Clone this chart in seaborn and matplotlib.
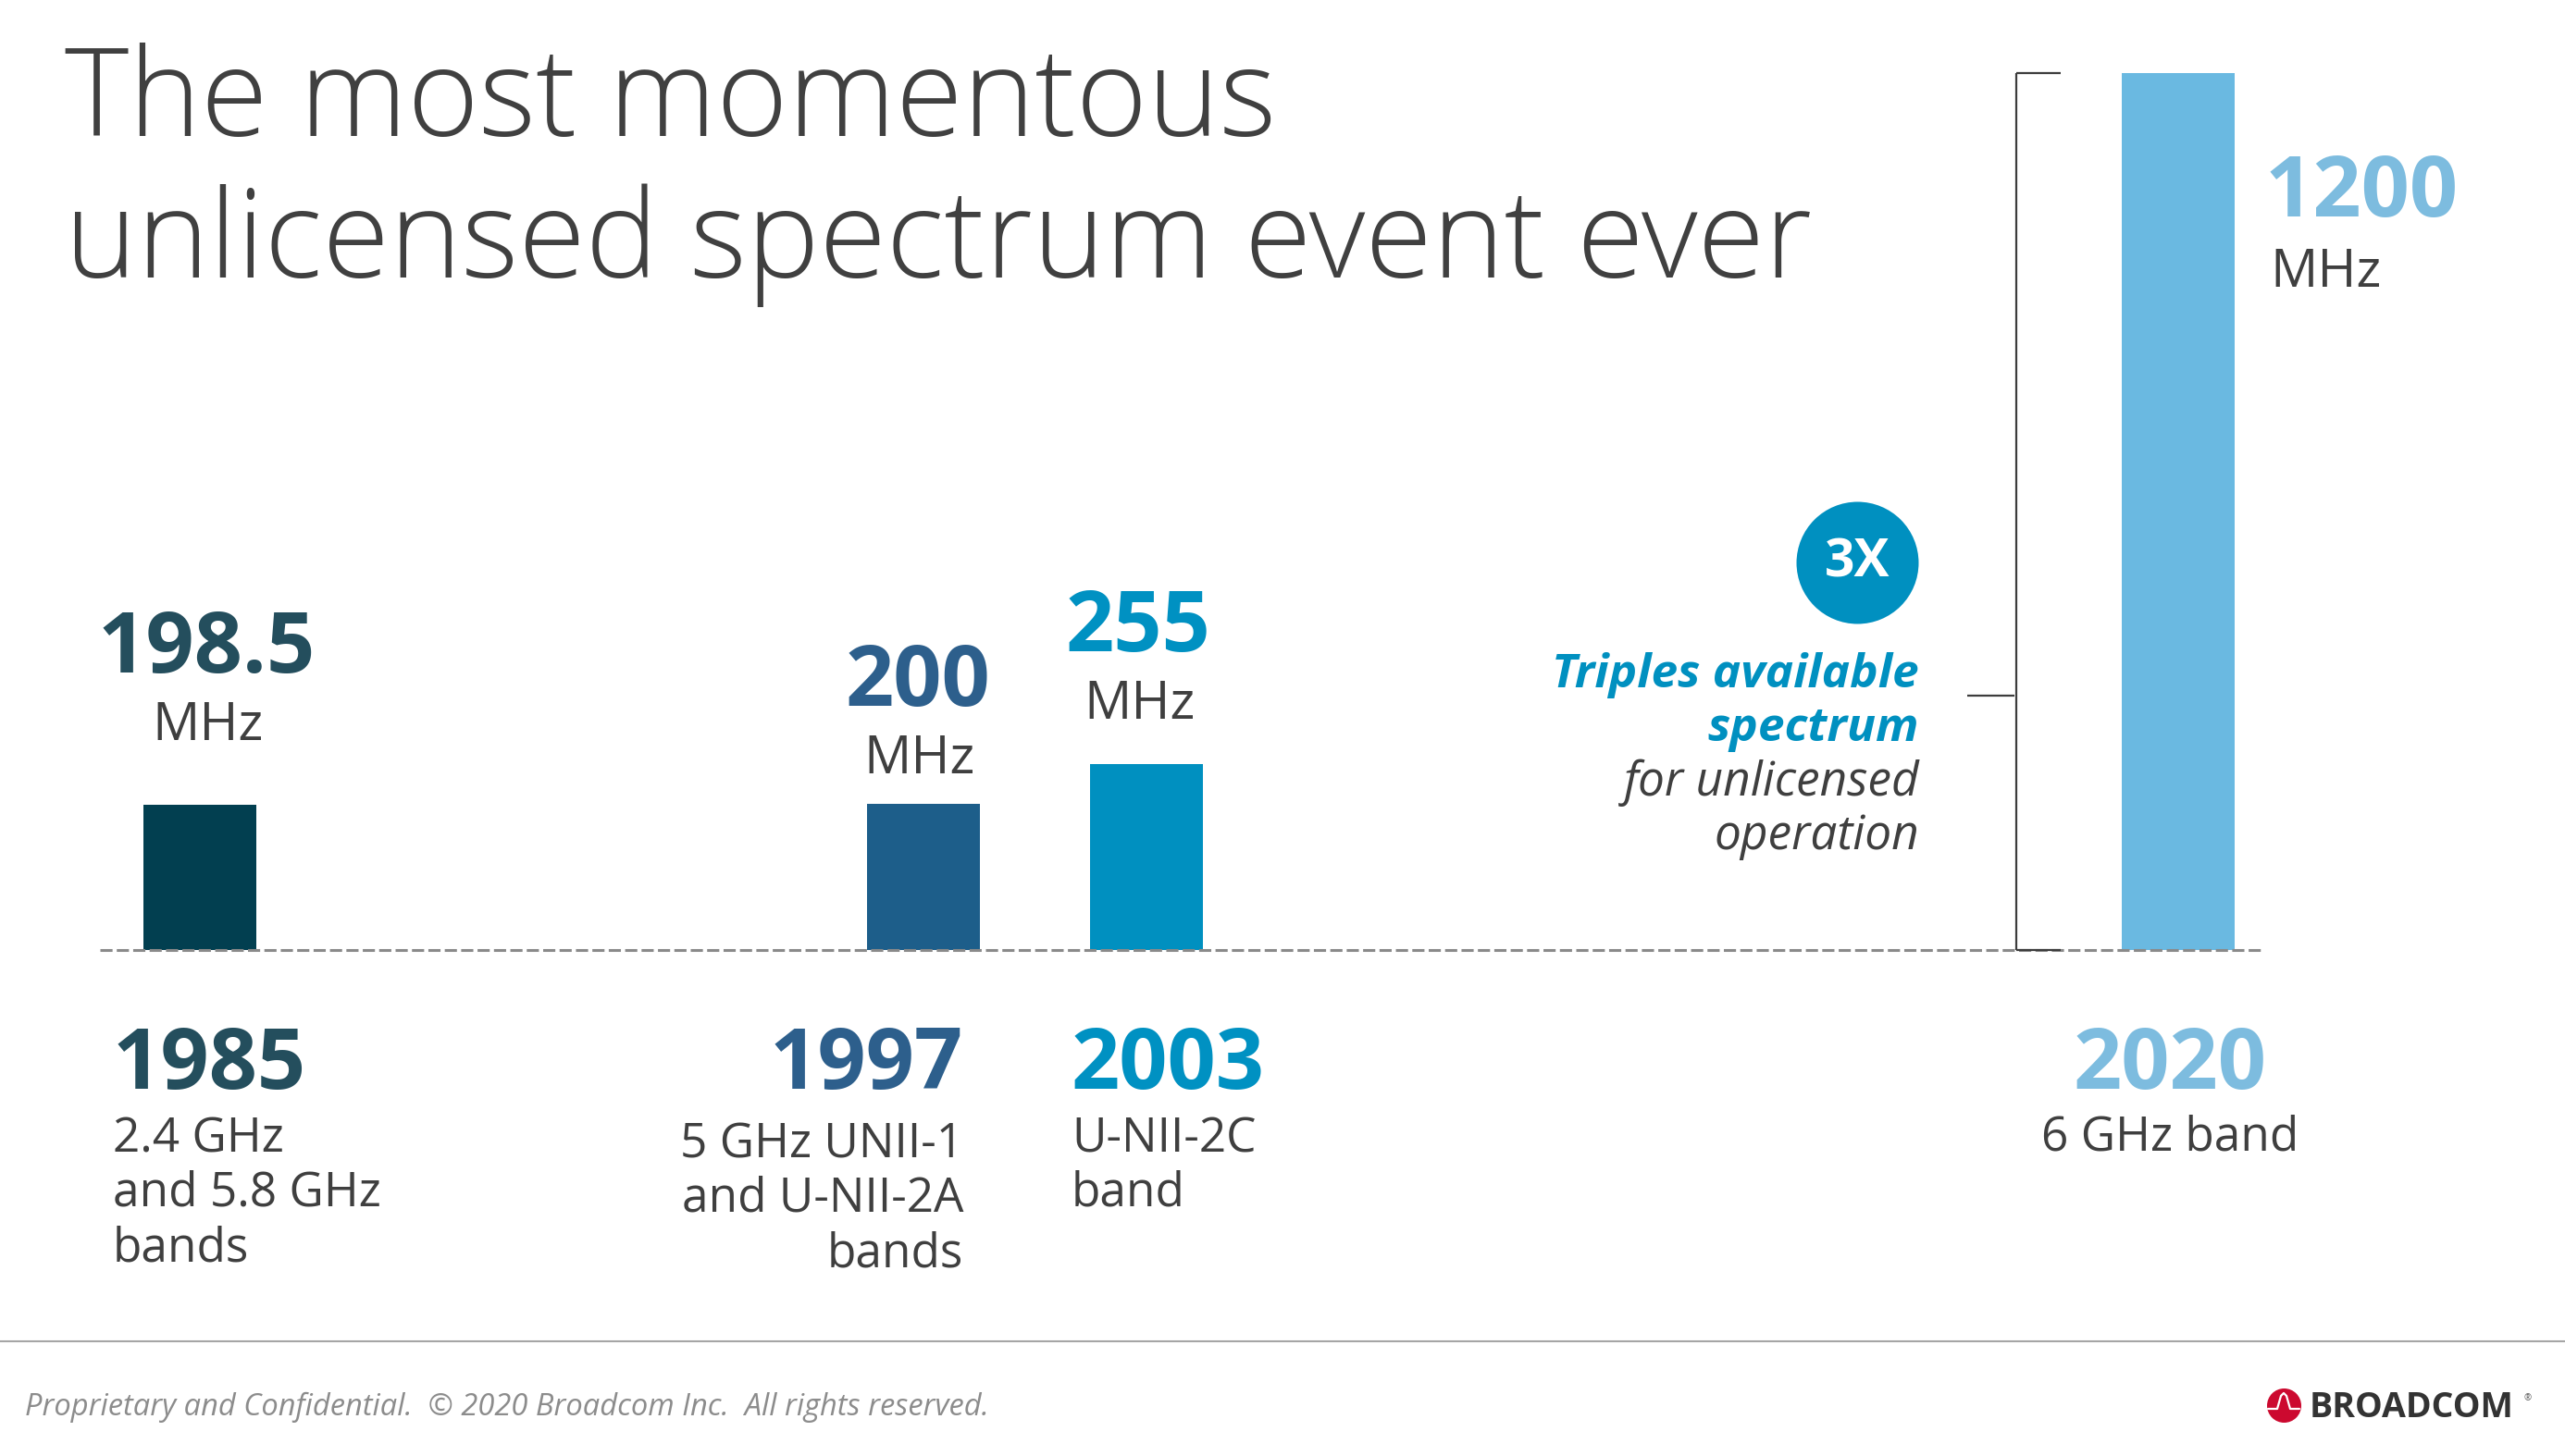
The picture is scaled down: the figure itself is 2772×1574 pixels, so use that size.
import matplotlib
matplotlib.use('Agg')
import pandas as pd
import matplotlib.pyplot as plt
import seaborn as sns

# --- data ---
years = ['1985', '1997', '2003', '2020']
bandwidth_mhz = [198.5, 200, 255, 1200]
value_text = ['198.5', '200', '255', '1200']
band_notes = [
    ['2.4 GHz', 'and 5.8 GHz', 'bands'],
    ['5 GHz UNII-1', 'and U-NII-2A', 'bands'],
    ['U-NII-2C', 'band'],
    ['6 GHz band'],
]
bar_colors = ['#023F50', '#1D5E8A', '#0090C0', '#6AB9E1']
text_colors = ['#244E5D', '#2D5F8C', '#0091C2', '#7DBCDF']

# --- layout (pixels of a 2772x1574 slide) ---
W, H = 2772, 1574
BASE_PX = 1027          # where 0 MHz sits
PX_PER_MHZ = 0.79
FIRST_PX, SLOT_PX = 216, 241
x_slot = [0.0, 3.245, 4.245, 8.871]

# offsets of the value labels from the bar top: (dx, dy number, dy unit, ha)
value_pos = [(7, 143, 70, 'center'), (-6, 106, 33, 'center'),
             (-9, 122, 49, 'center'), (94, -155, -231, 'left')]
# year / note column: (dx, ha, first note dy)
year_pos = [(-94, 'left', -218), (43, 'right', -224),
            (-81, 'left', -218), (-9, 'center', -216)]
NOTE_STEP = 59

DARK = '#3F3F3F'
CALLOUT = '#0090C0'

sns.set_theme(style='white')
plt.rcParams['font.family'] = ['Open Sans', 'DejaVu Sans']


def fig_xy(px, py):
    return px / W, 1 - py / H


fig = plt.figure(figsize=(W / 100, H / 100), dpi=100)
ax = fig.add_axes([0, 0, 1, 1])

df = pd.DataFrame({'slot': x_slot, 'mhz': bandwidth_mhz, 'year': years})
sns.barplot(data=df, x='slot', y='mhz', hue='year', orient='x',
            palette=dict(zip(years, bar_colors)), native_scale=True,
            width=0.506, errorbar=None, legend=False, linewidth=0,
            saturation=1, ax=ax)
ax.set_xlim(-FIRST_PX / SLOT_PX, (W - FIRST_PX) / SLOT_PX)
ax.set_ylim(-(H - BASE_PX) / PX_PER_MHZ, BASE_PX / PX_PER_MHZ)
ax.set_axis_off()

# dashed baseline
ax.axhline(0, xmin=108 / W, xmax=2445 / W, color='#8A8A8A', lw=2.2,
           ls=(0, (4.3, 1.5)), zorder=3)

# value labels above bars
for x, v, txt, col, (dx, dyn, dyu, ha) in zip(x_slot, bandwidth_mhz, value_text,
                                                text_colors, value_pos):
    ax.annotate(txt, (x, v), xytext=(dx, dyn), textcoords='offset pixels',
                ha=ha, va='baseline', fontsize=66, fontweight='bold', color=col)
    ax.annotate('MHz', (x, v), xytext=(dx + (5 if ha == 'left' else 1), dyu),
                textcoords='offset pixels', ha=ha, va='baseline',
                fontsize=41, color=DARK)

# years and band notes under the baseline
for x, yr, notes, col, (dx, ha, dy0) in zip(x_slot, years, band_notes,
                                             text_colors, year_pos):
    ax.annotate(yr, (x, 0), xytext=(dx, -150), textcoords='offset pixels',
                ha=ha, va='baseline', fontsize=66, fontweight='bold', color=col)
    for i, line in enumerate(notes):
        ax.annotate(line, (x, 0), xytext=(dx, dy0 - i * NOTE_STEP),
                    textcoords='offset pixels', ha=ha, va='baseline',
                    fontsize=37, color=DARK)

# bracket spanning the 6 GHz allocation
top = bandwidth_mhz[-1]
xb = x_slot[-1] - 0.726
ax.vlines(xb, 0, top, color='#3C3C3C', lw=1.6, zorder=3)
ax.hlines([0, top], xb, xb + 0.2, color='#3C3C3C', lw=1.6, zorder=3)
ax.hlines(top * 0.29, xb - 0.22, xb - 0.01, color='#3C3C3C', lw=1.6, zorder=3)

# 3X callout
cx, cy = fig_xy(2007, 608)
ax.scatter([cx], [cy], s=(132 * 0.72) ** 2, color=CALLOUT, linewidths=0,
           transform=ax.transAxes, zorder=4, clip_on=False)
ax.text(cx, cy, '3X', transform=ax.transAxes, ha='center', va='center',
        fontsize=41, fontweight='bold', color='white', zorder=5)
for (txt, py, style) in [('Triples available', 743, 'blue'),
                         ('spectrum', 801, 'blue'),
                         ('for unlicensed', 860, 'gray'),
                         ('operation', 918, 'gray')]:
    tx, ty = fig_xy(2074, py)
    ax.text(tx, ty, txt, transform=ax.transAxes, ha='right', va='baseline',
            fontsize=37, fontstyle='italic',
            fontweight='bold' if style == 'blue' else 'normal',
            color=CALLOUT if style == 'blue' else DARK)

# title
for txt, py in [('The most momentous', 147), ('unlicensed spectrum event ever', 300)]:
    tx, ty = fig_xy(70, py)
    ax.text(tx, ty, txt, transform=ax.transAxes, ha='left', va='baseline',
            fontsize=95, fontweight='light', color='#404040')

# footer
ly = fig_xy(0, 1450)[1]
ax.plot([0, 1], [ly, ly], transform=ax.transAxes, color='#A6A6A6', lw=1.5,
        clip_on=False)
tx, ty = fig_xy(27, 1530)
ax.text(tx, ty, 'Proprietary and Confidential.  \u00a9 2020 Broadcom Inc.  All rights reserved.',
        transform=ax.transAxes, ha='left', va='baseline', fontsize=23.5,
        fontstyle='italic', color='#8C8C8C')

# Broadcom logo
lx, lyy = fig_xy(2468, 1519)
ax.scatter([lx], [lyy], s=(37 * 0.72) ** 2, color='#CC092F', linewidths=0,
           transform=ax.transAxes, zorder=4, clip_on=False)
pulse = [(-17, 4), (-7, 4), (-3, -10), (0, -13), (3, -10), (7, 4), (17, 4)]
ax.plot([fig_xy(2468 + dx, 1519 + dy)[0] for dx, dy in pulse],
        [fig_xy(2468 + dx, 1519 + dy)[1] for dx, dy in pulse],
        transform=ax.transAxes, color='white', lw=1.6, zorder=5, clip_on=False)
tx, ty = fig_xy(2496, 1532)
ax.text(tx, ty, 'BROADCOM', transform=ax.transAxes, ha='left', va='baseline',
        fontsize=27, fontweight='bold', color='#333333')
tx, ty = fig_xy(2728, 1514)
ax.text(tx, ty, '\u00ae', transform=ax.transAxes, ha='left', va='baseline',
        fontsize=7, color='#555555')

fig.savefig('out.png', dpi=100, facecolor='white')
